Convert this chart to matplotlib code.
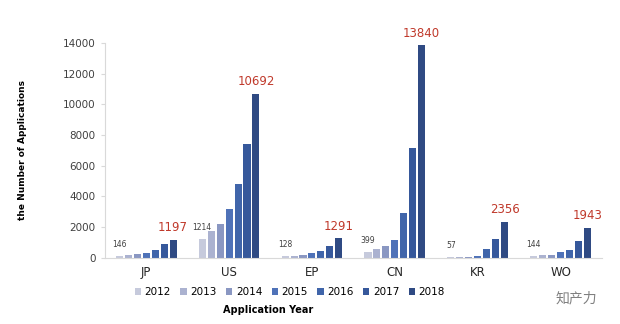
import matplotlib.pyplot as plt
import numpy as np

offices = ["JP", "US", "EP", "CN", "KR", "WO"]
years = ["2012", "2013", "2014", "2015", "2016", "2017", "2018"]

# applications per office, 2012 .. 2018
jp = [146, 160, 240, 330, 510, 900, 1197]
us = [1214, 1720, 2220, 3200, 4780, 7380, 10692]
ep = [128, 140, 220, 290, 450, 780, 1291]
cn = [399, 580, 770, 1190, 2950, 7180, 13840]
kr = [57, 60, 75, 150, 580, 1230, 2356]
wo = [144, 210, 210, 390, 510, 1100, 1943]

colors = ["#c6cadc", "#abb2d0", "#8a97c2", "#4f72b8", "#4065aa", "#36589b", "#2f4a83"]

data = np.array([jp, us, ep, cn, kr, wo])

fig = plt.figure(figsize=(6.2, 3.24), dpi=100)
ax = fig.add_axes([0.169, 0.204, 0.802, 0.664])

x = np.arange(len(offices))
step = 0.108
width = 0.085
for i, yr in enumerate(years):
    ax.bar(x + (i - 3) * step, data[:, i], width, color=colors[i], label=yr)

# first-year value (small, grey) and last-year value (red)
for j in range(len(offices)):
    ax.annotate(str(data[j, 0]), (x[j] - 3 * step, data[j, 0]), xytext=(0, 5),
                textcoords="offset points", ha="center", va="bottom",
                fontsize=5.5, color="#404040")
    ax.annotate(str(data[j, -1]), (x[j] + 3 * step, data[j, -1]), xytext=(0, 4),
                textcoords="offset points", ha="center", va="bottom",
                fontsize=8.5, color="#c0392b")

ax.set_xlim(-0.5, len(offices) - 0.5)
ax.set_ylim(0, 14000)
ax.set_yticks(range(0, 14001, 2000))
ax.set_xticks(x)
ax.set_xticklabels(offices)
ax.tick_params(axis="x", length=0, labelsize=8.5, pad=6, labelcolor="#262626")
ax.tick_params(axis="y", length=3, color="#d9d9d9", labelsize=7.5, labelcolor="#404040")
for s in ["top", "right"]:
    ax.spines[s].set_visible(False)
ax.spines["left"].set_color("#d9d9d9")
ax.spines["bottom"].set_color("#d9d9d9")

ax.set_ylabel("the Number of Applications", fontsize=6.5, fontweight="bold", labelpad=26)
fig.text(0.432, 0.035, "Application Year", fontsize=7, fontweight="bold", ha="center")

ax.legend(loc="center", bbox_to_anchor=(0.372, -0.16), ncol=7, frameon=False,
          fontsize=7.5, handlelength=0.6, handleheight=0.6, handletextpad=0.35,
          columnspacing=0.9)

fig.text(0.93, 0.08, "知产力", fontsize=10, color="#808080",
         family=["Noto Sans CJK SC", "DejaVu Sans"], ha="center", va="center")

fig.savefig("out.png", dpi=100)
